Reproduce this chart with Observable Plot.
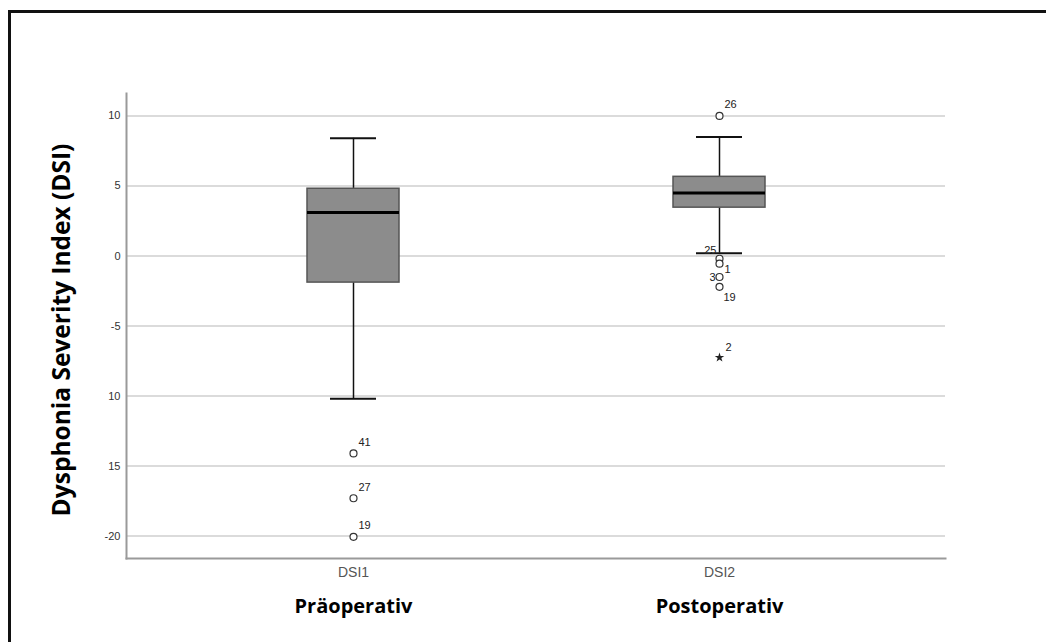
<!DOCTYPE html>
<html>
<head>
<meta charset="utf-8">
<script src="https://cdn.jsdelivr.net/npm/d3@7"></script>
<script src="https://cdn.jsdelivr.net/npm/@observablehq/plot@0.6"></script>
<style>
  html, body { margin: 0; padding: 0; background: #fff; overflow: hidden; }
  #wrap { position: relative; width: 1046px; height: 642px; overflow: hidden; }
  #border { position: absolute; left: 8px; top: 10px; width: 1200px; height: 800px;
            border-top: 3px solid #111; border-left: 3px solid #111; pointer-events: none; box-sizing: border-box; }
</style>
</head>
<body>
<div id="wrap"><div id="border"></div></div>
<script>
// ---- data ----
const categories = ["DSI1", "DSI2"];
const groupTitles = ["Präoperativ", "Postoperativ"];
const whiskerLow = [-10.2, 0.2];
const q1 = [-1.9, 3.45];
const median = [3.1, 4.5];
const q3 = [4.8, 5.65];
const whiskerHigh = [8.4, 8.5];

const outlierGroup = ["DSI1", "DSI1", "DSI1", "DSI2", "DSI2", "DSI2", "DSI2", "DSI2"];
const outlierValue = [-14.1, -17.3, -20.05, 10.0, -0.2, -0.55, -1.5, -2.2];
const outlierId = ["41", "27", "19", "26", "25", "1", "3", "19"];

const extremeGroup = ["DSI2"];
const extremeValue = [-7.25];
const extremeId = ["2"];

const yTicks = [10, 5, 0, -5, -10, -15, -20];
const yTickLabels = ["10", "5", "0", "-5", "10", "15", "-20"];
const yTitle = "Dysphonia Severity Index (DSI)";

// ---- derived tables ----
const boxes = categories.map((c, i) => ({
  cat: c, lo: whiskerLow[i], q1: q1[i], med: median[i], q3: q3[i], hi: whiskerHigh[i], title: groupTitles[i]
}));
const outliers = outlierGroup.map((g, i) => ({cat: g, v: outlierValue[i], id: outlierId[i]}));
const extremes = extremeGroup.map((g, i) => ({cat: g, v: extremeValue[i], id: extremeId[i]}));

// label placement (style only)
const placement = [
  {dx: 5, dy: -11, anchor: "start"},
  {dx: 5, dy: -11, anchor: "start"},
  {dx: 5, dy: -11, anchor: "start"},
  {dx: 5, dy: -11, anchor: "start"},
  {dx: -3, dy: -8, anchor: "end"},
  {dx: 5, dy: 6, anchor: "start"},
  {dx: -4, dy: 0, anchor: "end"},
  {dx: 4, dy: 11, anchor: "start"}
];
const labelMarks = outliers.map((o, i) => Plot.text([o], {
  x: "cat", y: "v", text: "id", dx: placement[i].dx, dy: placement[i].dy,
  textAnchor: placement[i].anchor, fontSize: 11, fill: "#222", fontFamily: "Liberation Sans"
}));

const chart = Plot.plot({
  width: 1046,
  height: 642,
  marginLeft: 126,
  marginRight: 101,
  marginTop: 93,
  marginBottom: 84,
  style: {fontFamily: "Liberation Sans, Arial, sans-serif", background: "transparent"},
  x: {domain: categories, paddingInner: 0.75, paddingOuter: 0.491, label: null},
  y: {domain: [-21.6, 11.6], label: null},
  marks: [
    Plot.gridY(yTicks, {stroke: "#cfcfcf", strokeOpacity: 1, strokeWidth: 1.5}),
    Plot.frame({anchor: "left", stroke: "#9a9a9a", strokeWidth: 2}),
    Plot.frame({anchor: "bottom", stroke: "#9a9a9a", strokeWidth: 2}),
    Plot.axisY({ticks: yTicks, tickFormat: d => yTickLabels[yTicks.indexOf(d)], tickSize: 0, tickPadding: 6,
                fontSize: 11, fill: "#333", label: null}),
    Plot.axisX({tickSize: 0, tickPadding: 9, fontSize: 14, fill: "#555", label: null}),
    Plot.ruleX(boxes, {x: "cat", y1: "q3", y2: "hi", stroke: "#111", strokeWidth: 1.5}),
    Plot.ruleX(boxes, {x: "cat", y1: "lo", y2: "q1", stroke: "#111", strokeWidth: 1.5}),
    Plot.tickY(boxes, {x: "cat", y: "hi", stroke: "#111", strokeWidth: 2, insetLeft: 23, insetRight: 23}),
    Plot.tickY(boxes, {x: "cat", y: "lo", stroke: "#111", strokeWidth: 2, insetLeft: 23, insetRight: 23}),
    Plot.barY(boxes, {x: "cat", y1: "q1", y2: "q3", fill: "#8c8c8c", stroke: "#555", strokeWidth: 1.5}),
    Plot.tickY(boxes, {x: "cat", y: "med", stroke: "#000", strokeWidth: 3}),
    Plot.dot(outliers, {x: "cat", y: "v", r: 3.5, stroke: "#333", fill: "#fff", strokeWidth: 1.2}),
    Plot.dot(extremes, {x: "cat", y: "v", symbol: "star", r: 3, fill: "#222", stroke: "none"}),
    ...labelMarks,
    Plot.text(extremes, {x: "cat", y: "v", text: "id", dx: 6, dy: -10, textAnchor: "start", fontSize: 11, fill: "#222"}),
    Plot.text(boxes, {x: "cat", text: "title", frameAnchor: "bottom", dy: 54, fontSize: 20,
                      fontWeight: "bold", fontFamily: "Open Sans", fill: "#000"}),
    Plot.text([yTitle], {frameAnchor: "left", textAnchor: "middle", rotate: -90, dx: -64, dy: 4, fontSize: 24.5,
                         fontWeight: "bold", fontFamily: "Open Sans", fill: "#000"})
  ]
});
document.getElementById("wrap").prepend(chart);
</script>
</body>
</html>
